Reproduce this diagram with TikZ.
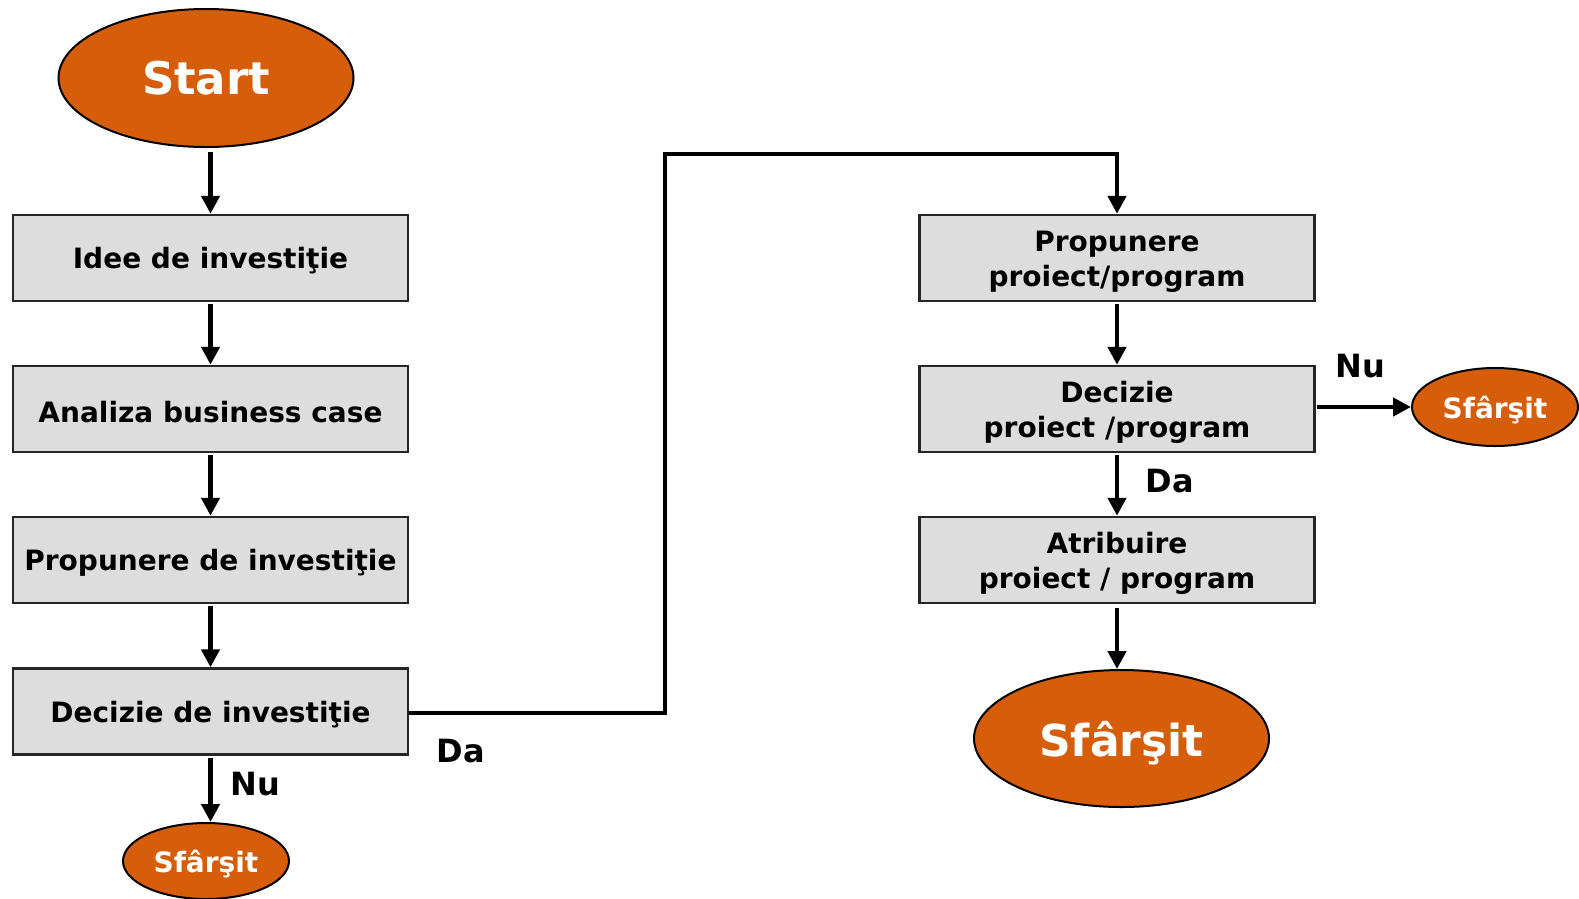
\documentclass[tikz,border=0pt]{standalone}
\usepackage{fontspec}
\setmainfont{DejaVu Sans}
\usetikzlibrary{shapes.geometric,arrows.meta}
\definecolor{orng}{RGB}{214,94,10}
\definecolor{boxgray}{RGB}{221,221,221}
\tikzset{
  stepbox/.style={draw=black!85, line width=2.5pt, fill=boxgray, minimum width=395pt, minimum height=86pt, inner sep=0pt, align=center, text height=27pt, font=\fontsize{28}{35}\selectfont\bfseries},
  twobox/.style={stepbox, text height=63pt},
  oval/.style={ellipse, draw=black, line width=2pt, fill=orng, inner sep=0pt, text=white, text depth=0pt, font=\bfseries},
  conn/.style={line width=4.5pt, -{Triangle[length=18pt,width=18pt]}},
  lbl/.style={font=\fontsize{32}{36}\selectfont\bfseries, inner sep=0pt}
}
\begin{document}
\begin{tikzpicture}[x=1pt,y=-1pt]
\useasboundingbox (0,0) rectangle (1579,898);
% left column
\node[oval, minimum width=295pt, minimum height=138pt, font=\fontsize{45}{50}\selectfont\bfseries] (start) at (206,78) {Start};
\node[stepbox] (b1) at (210.5,258) {Idee de investiţie};
\node[stepbox] (b2) at (210.5,409) {Analiza business case};
\node[stepbox] (b3) at (210.5,560) {Propunere de investiţie};
\node[stepbox] (b4) at (210.5,711.5) {Decizie de investiţie};
\node[oval, minimum width=166pt, minimum height=76pt, font=\fontsize{28}{32}\selectfont\bfseries] (e1) at (206,861) {Sfârşit};
% right column
\node[twobox] (r1) at (1117,258) {Propunere\\proiect/program};
\node[twobox] (r2) at (1117,409) {Decizie\\proiect /program};
\node[twobox] (r3) at (1117,560) {Atribuire\\proiect / program};
\node[oval, minimum width=166pt, minimum height=78pt, font=\fontsize{28}{32}\selectfont\bfseries] (e2) at (1495,407) {Sfârşit};
\node[oval, minimum width=295pt, minimum height=137pt, font=\fontsize{44}{50}\selectfont\bfseries] (e3) at (1121.5,738.5) {Sfârşit};
% labels
\node[lbl] (nu1) at (255,784) {Nu};
\node[lbl] (da1) at (461,751) {Da};
\node[lbl] (nu2) at (1360,366) {Nu};
\node[lbl] (da2) at (1170,481) {Da};
% connectors
\draw[conn, shorten <=4pt] (b1.north |- start.south) -- (b1.north);
\draw[conn, shorten <=2pt] (b1) -- (b2.north);
\draw[conn, shorten <=2pt] (b2) -- (b3.north);
\draw[conn, shorten <=2pt] (b3) -- (b4.north);
\draw[conn, shorten <=2pt] (b4) -- (b4.south |- e1.north);
\coordinate (k1) at (665,713);
\coordinate (k2) at (665,154);
\draw[conn] (b4.east |- k1) -- (k1) -- (k2) -| (r1.north);
\draw[conn, shorten <=2pt] (r1) -- (r2.north);
\draw[conn, shorten <=2pt] (r2) -- (r3.north);
\draw[conn, shorten <=4pt] (r3) -- (r3.south |- e3.north);
\draw[conn, shorten <=1pt] (r2.east |- e2.west) -- (e2.west);
\end{tikzpicture}
\end{document}
